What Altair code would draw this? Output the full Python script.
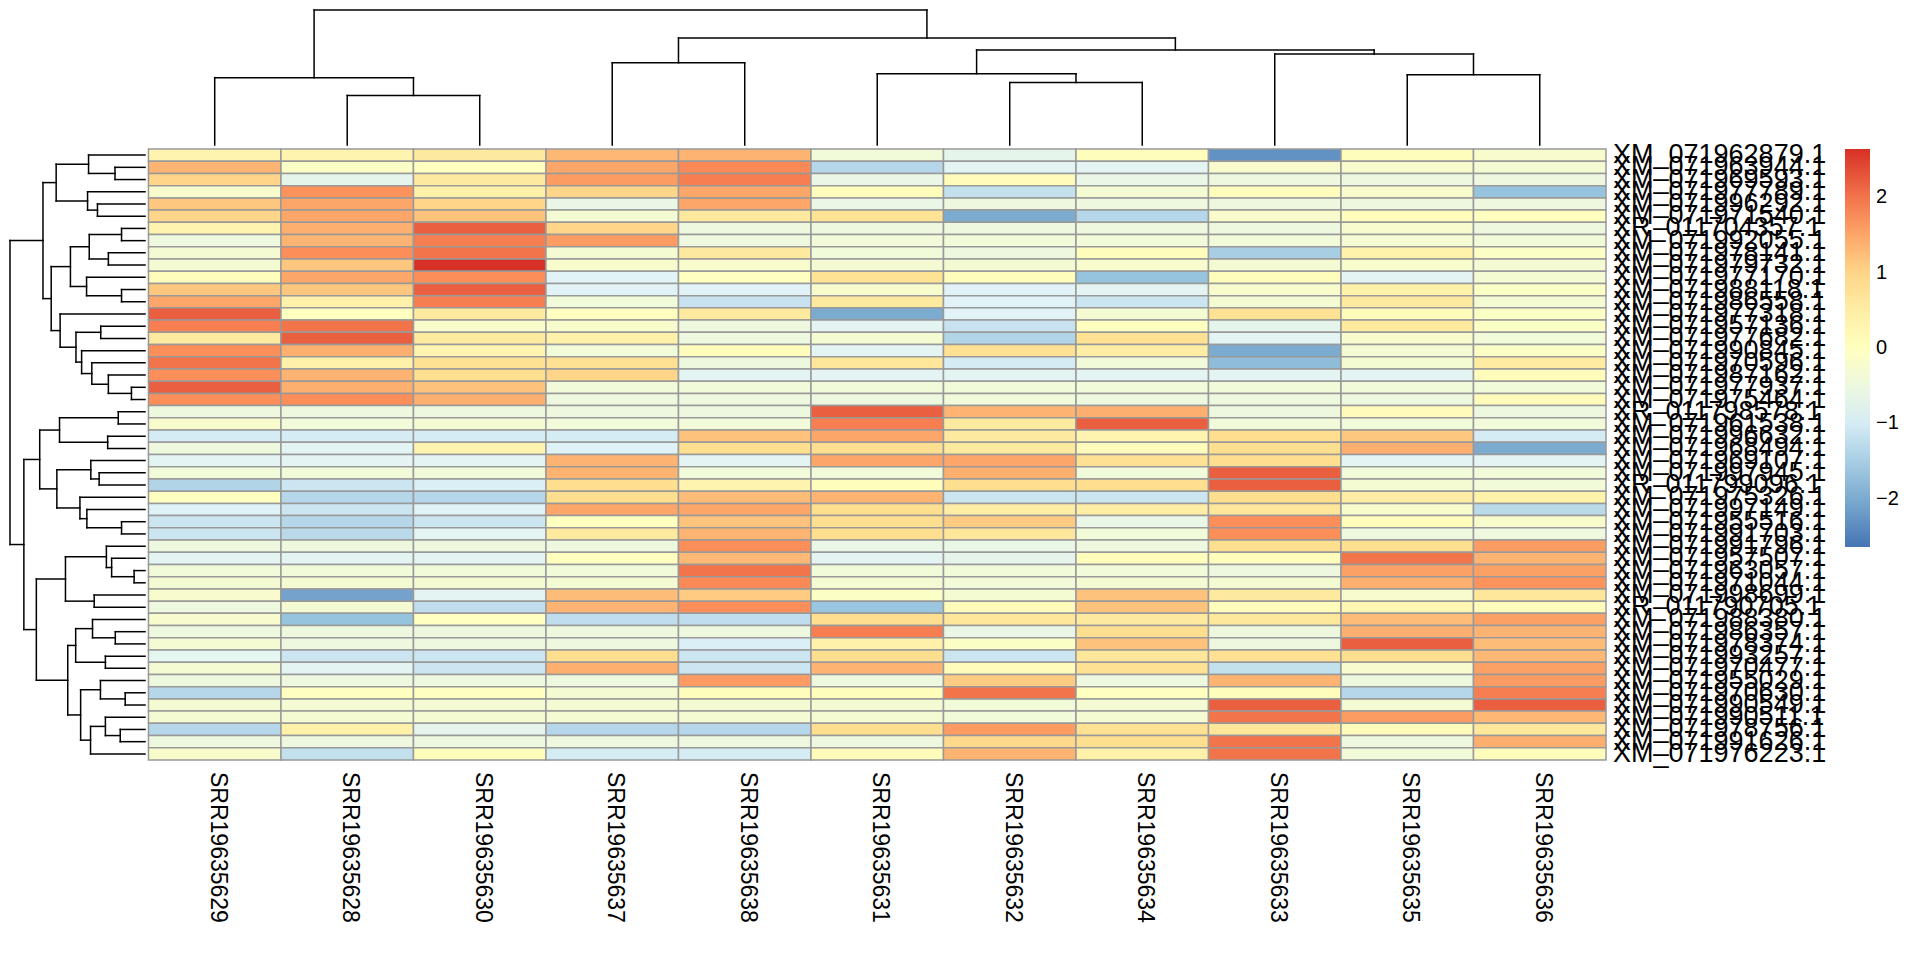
import altair as alt
import pandas as pd

# ---------------- data ----------------
col_labels = ["SRR19635629", "SRR19635628", "SRR19635630", "SRR19635637",
              "SRR19635638", "SRR19635631", "SRR19635632", "SRR19635634",
              "SRR19635633", "SRR19635635", "SRR19635636"]

row_labels = [
    "XM_071962879.1", "XM_071963944.1", "XM_071969593.1", "XM_071977789.1",
    "XM_071996292.1", "XM_071971540.1", "XR_011704357.1", "XM_071992055.1",
    "XM_071978141.1", "XM_071979732.1", "XM_071977170.1", "XM_071988118.1",
    "XM_071986558.1", "XM_071977318.1", "XM_071957136.1", "XM_071977682.1",
    "XM_071990845.1", "XM_071970596.1", "XM_071987162.1", "XM_071977937.1",
    "XM_071975464.1", "XR_011798578.1", "XM_071961538.1", "XM_071996632.1",
    "XM_071968494.1", "XM_071969107.1", "XM_071997945.1", "XR_011799096.1",
    "XM_071975326.1", "XM_071997149.1", "XM_071955516.1", "XM_071991703.1",
    "XM_071991796.1", "XM_071957507.1", "XM_071963057.1", "XM_071971044.1",
    "XM_071998699.1", "XR_011790705.1", "XM_071988380.1", "XM_071986357.1",
    "XM_071978374.1", "XM_071993257.1", "XM_071970477.1", "XM_071955029.1",
    "XM_071970630.1", "XM_071990549.1", "XM_071990511.1", "XM_071978756.1",
    "XM_071991626.1", "XM_071976223.1"]

z_scores = [
    [0.3, 0.3, 0.6, 1.3, 1.35, -0.4, -0.7, 0.05, -2.3, 0.05, -0.2],
    [1.35, -0.1, 0.0, 1.5, 1.8, -1.35, -0.8, -0.8, -0.2, -0.2, -0.3],
    [1.0, -0.7, 0.6, 1.6, 1.9, -0.6, 0.1, -0.6, -0.5, -0.5, -0.5],
    [-0.2, 1.7, 0.4, 1.0, 1.5, 0.05, -1.2, -0.3, 0.05, -0.2, -1.7],
    [1.15, 1.5, 1.0, -0.6, 1.5, -0.6, -0.5, -0.5, -0.5, -0.5, -0.5],
    [1.0, 1.5, 1.2, -0.3, 0.6, 0.8, -2.0, -1.35, -0.2, 0.05, 0.0],
    [0.3, 1.4, 2.2, 1.0, -0.5, -0.5, -0.5, -0.5, -0.5, -0.2, -0.5],
    [-0.5, 1.35, 1.9, 1.6, -0.5, -0.4, -0.4, -0.4, -0.4, -0.3, -0.4],
    [-0.3, 1.75, 2.0, -0.3, 0.6, -0.4, -0.5, 0.05, -1.5, 0.35, -0.1],
    [-0.3, 1.15, 2.64, -0.2, -0.2, -0.3, -0.3, -0.2, -0.3, -0.2, -0.3],
    [0.05, 1.5, 1.75, -0.85, 0.0, 0.8, 0.05, -1.7, 0.05, -0.8, -0.3],
    [1.15, 1.15, 2.2, -0.85, -0.85, -0.2, -0.85, -0.8, -0.2, 0.4, -0.1],
    [1.5, 0.4, 1.9, -0.4, -1.15, 0.6, -0.85, -1.1, -0.3, 0.6, -0.3],
    [2.2, 0.0, 0.6, 0.0, 0.6, -2.0, -0.85, -0.3, 0.85, 0.1, -0.1],
    [1.9, 2.0, -0.2, -0.2, -0.5, -0.8, -1.15, 0.0, -0.7, 0.6, -0.1],
    [0.6, 2.2, 0.6, 0.4, -0.5, -0.3, -1.4, 0.85, -0.8, -0.2, -0.4],
    [1.75, 1.4, 0.3, -0.4, 0.05, -0.8, 0.85, 0.5, -2.0, -0.3, -0.1],
    [2.0, 0.4, 0.85, 0.85, -0.5, 0.7, -1.0, -0.4, -1.8, -0.3, 0.55],
    [1.75, 1.35, 0.9, 1.0, -0.8, -0.8, -0.8, -0.8, -0.8, -0.8, 0.1],
    [2.2, 1.4, 1.2, -0.4, -0.4, -0.4, -0.4, -0.4, -0.4, -0.4, -0.4],
    [1.75, 1.75, 1.4, -0.5, -0.5, -0.5, -0.4, -0.5, -0.5, -0.5, 0.1],
    [-0.5, -0.5, -0.5, -0.5, -0.5, 2.2, 1.35, 1.4, -0.5, 0.1, -0.5],
    [-0.2, -0.4, -0.3, -0.4, -0.4, 1.9, 0.6, 2.2, -0.4, -0.4, -0.4],
    [-1.0, -1.0, -1.0, -1.0, 1.2, 1.5, 0.6, 0.3, 0.9, 1.15, -1.0],
    [-0.5, -0.8, 0.3, -0.9, 0.9, 0.9, 0.6, 0.1, 0.9, 1.4, -2.0],
    [-0.8, -0.8, -0.8, 1.35, -0.8, 1.5, 1.5, 0.85, 0.9, -0.8, -0.8],
    [-0.4, -0.4, -0.4, 1.35, -0.4, -0.4, 1.4, -0.4, 2.2, -0.4, -0.4],
    [-1.4, -1.1, -0.95, 0.9, 0.3, 0.05, 0.9, 0.9, 2.2, -0.3, -0.4],
    [0.0, -1.35, -1.35, 0.9, 1.25, 1.35, -1.1, -1.1, 0.9, 0.5, 0.35],
    [-0.9, -1.1, -0.85, 1.5, 1.5, 0.9, 0.5, 0.5, 0.7, -0.2, -1.3],
    [-1.1, -1.35, -1.1, 0.0, 1.2, 0.9, 1.1, -0.6, 1.75, 0.05, -0.2],
    [-1.1, -1.3, -0.8, 0.6, 1.35, 0.9, 0.7, -0.4, 1.75, -0.5, -0.5],
    [-0.5, -0.5, -0.5, -0.5, 1.75, -0.6, -0.6, -0.5, 0.9, 0.9, 1.6],
    [-0.8, -0.8, -0.8, 0.0, 1.3, -0.8, -0.7, 0.05, 0.05, 2.0, 1.35],
    [-0.4, -0.4, -0.4, -0.4, 2.0, -0.4, -0.4, -0.4, -0.5, 1.55, 1.55],
    [-0.3, -0.3, -0.3, -0.3, 1.8, -0.3, -0.4, -0.3, -0.3, 1.4, 1.7],
    [-0.2, -2.1, -0.8, 1.25, 1.1, -0.1, -0.3, 1.2, 0.6, -0.2, 0.7],
    [-0.5, -0.3, -1.25, 1.35, 1.75, -1.65, 0.1, 1.2, 0.05, 0.25, 0.1],
    [-0.2, -1.7, 0.0, -1.25, -1.25, 0.9, 0.7, 0.6, 0.65, 1.25, 1.55],
    [-0.5, -0.5, -0.5, -0.5, -0.5, 1.9, -0.6, 0.9, -0.5, 1.4, 1.35],
    [-0.3, -0.5, -0.5, -0.5, -0.95, 0.4, -0.1, 1.2, -0.5, 2.2, 1.25],
    [-0.75, -1.1, -1.1, 0.9, -1.1, 0.9, -1.1, 0.7, 0.85, 0.9, 1.3],
    [-0.3, -0.8, -1.1, 1.4, -1.1, 1.35, 0.1, 0.85, -1.2, -0.2, 1.55],
    [-0.5, -0.5, -0.5, -0.5, 1.6, -0.5, 1.1, -0.5, 1.35, -0.5, 1.6],
    [-1.35, 0.0, 0.0, -0.3, 0.05, 0.05, 2.0, 0.0, 0.05, -1.35, 1.9],
    [-0.3, -0.3, -0.3, -0.3, -0.3, -0.3, -0.4, -0.3, 2.2, -0.3, 2.2],
    [-0.3, -0.3, -0.3, -0.3, -0.3, -0.3, -0.4, -0.3, 2.0, 1.6, 1.3],
    [-1.35, 0.4, -0.7, -1.35, -1.35, 0.9, 1.6, 0.85, 0.7, 0.1, 0.65],
    [-0.5, -0.5, -0.5, -0.5, -0.5, -0.5, 0.95, 0.9, 2.0, -0.5, 1.4],
    [-0.2, -1.2, 0.05, -1.0, -1.0, 0.1, 1.35, 0.4, 2.0, -0.4, 0.05],
]

# dendrograms: (child, child, height); ints are leaves, "mK" is the K-th merge
col_merges = [
    (1, 2, 50), (0, "m0", 68), (3, 4, 83), (6, 7, 63), (5, "m3", 72),
    (9, 10, 71), (8, "m5", 92), ("m4", "m6", 96), ("m2", "m7", 108),
    ("m1", "m8", 136.3)]

row_merges = [
    (1, 2, 30.3), (0, "m0", 57), (4, 5, 48), (3, "m2", 58), ("m1", "m3", 89.7),
    (6, 7, 23.7), (8, 9, 37), ("m5", "m6", 56.3), (11, 12, 23.7), (10, "m8", 59),
    ("m7", "m9", 75.3), (14, 15, 44.7), (19, 20, 13.7), (18, "m12", 37),
    (17, "m13", 53.7), (16, "m14", 64), ("m11", "m15", 69.7), (13, "m16", 85.7),
    ("m10", "m17", 94.7), ("m4", "m18", 103),
    (21, 22, 27), (23, 24, 37.7), ("m20", "m21", 86.3), (26, 27, 46.3),
    (25, "m23", 54.7), (30, 31, 23.7), (29, "m25", 58.7), (28, "m26", 65.7),
    ("m24", "m27", 89), ("m22", "m28", 106.3),
    (34, 35, 11), (33, "m30", 33.7), (32, "m31", 39), (36, 37, 51.3),
    ("m32", "m33", 80.3),
    (39, 40, 30), (38, "m35", 53), (41, 42, 40), ("m36", "m37", 70),
    (44, 45, 20), (43, "m39", 45), (47, 48, 25), (46, "m41", 40),
    ("m42", 49, 55), ("m40", "m43", 65), ("m38", "m44", 78),
    ("m34", "m45", 109.7), ("m29", "m46", 122.3), ("m19", "m47", 136.3)]

legend_ticks = [-2, -1, 0, 1, 2]
palette = ["#4575B4", "#91BFDB", "#E0F3F8", "#FFFFBF", "#FEE090", "#FC8D59", "#D73027"]
vmax = 2.64

# ---------------- layout helpers ----------------
n_rows, n_cols = len(row_labels), len(col_labels)
X_LEFT = -1.045          # room for the row dendrogram (in column units)
Y_TOP = -11.375          # room for the column dendrogram (in row units)
W, H = 1596, 750


def dendro(merges, n):
    pos = {i: float(i) for i in range(n)}
    hgt = {i: 0.0 for i in range(n)}
    ref = lambda c: c if isinstance(c, int) else n + int(c[1:])
    segs = []
    for k, (a, b, h) in enumerate(merges):
        a, b = ref(a), ref(b)
        segs.append((pos[a], hgt[a], pos[a], h))
        segs.append((pos[b], hgt[b], pos[b], h))
        segs.append((pos[a], h, pos[b], h))
        pos[n + k] = (pos[a] + pos[b]) / 2
        hgt[n + k] = h
    return segs, max(h for _, _, h in merges)


cells = []
for r in range(n_rows):
    for c in range(n_cols):
        cells.append({"x0": c, "x1": c + 1, "y0": r, "y1": r + 1,
                      "value": z_scores[r][c], "gene": row_labels[r],
                      "sample": col_labels[c]})
cells = pd.DataFrame(cells)

cs, croot = dendro(col_merges, n_cols)
col_seg = pd.DataFrame([{"x": p1 + 0.5, "x2": p2 + 0.5,
                         "y": -0.327 - h1 / croot * (-Y_TOP - 0.327),
                         "y2": -0.327 - h2 / croot * (-Y_TOP - 0.327)}
                        for p1, h1, p2, h2 in cs])
rs, rroot = dendro(row_merges, n_rows)
row_seg = pd.DataFrame([{"y": p1 + 0.5, "y2": p2 + 0.5,
                         "x": -0.026 - h1 / rroot * (-X_LEFT - 0.026),
                         "x2": -0.026 - h2 / rroot * (-X_LEFT - 0.026)}
                        for p1, h1, p2, h2 in rs])

row_df = pd.DataFrame({"label": row_labels, "y": [i + 0.5 for i in range(n_rows)],
                       "x": [n_cols] * n_rows})
col_df = pd.DataFrame({"label": col_labels, "x": [i + 0.5 for i in range(n_cols)],
                       "y": [n_rows] * n_cols})

xs = alt.Scale(domain=[X_LEFT, n_cols], nice=False, zero=False)
ys = alt.Scale(domain=[Y_TOP, n_rows], nice=False, zero=False, reverse=True)
FONT = "Liberation Sans"

heat = alt.Chart(cells).mark_rect(stroke="#999999", strokeWidth=1.5).encode(
    x=alt.X("x0:Q", scale=xs, axis=None), x2="x1:Q",
    y=alt.Y("y0:Q", scale=ys, axis=None), y2="y1:Q",
    color=alt.Color("value:Q",
                    scale=alt.Scale(domain=[-vmax, -2 * vmax / 3, -vmax / 3, 0,
                                            vmax / 3, 2 * vmax / 3, vmax],
                                    range=palette, interpolate="rgb"),
                    legend=alt.Legend(orient="none", legendX=1835, legendY=139,
                                      direction="vertical", title=None,
                                      gradientLength=398, gradientThickness=25,
                                      gradientStrokeWidth=0, values=legend_ticks,
                                      labelFontSize=20, labelFont=FONT,
                                      labelColor="black", labelOffset=6,
                                      padding=0)),
    tooltip=["gene", "sample", "value"])

seg_mark = dict(color="black", strokeWidth=1.5, strokeCap="square")
cden = alt.Chart(col_seg).mark_rule(**seg_mark).encode(
    x=alt.X("x:Q", scale=xs, axis=None), x2="x2:Q",
    y=alt.Y("y:Q", scale=ys, axis=None), y2="y2:Q")
rden = alt.Chart(row_seg).mark_rule(**seg_mark).encode(
    x=alt.X("x:Q", scale=xs, axis=None), x2="x2:Q",
    y=alt.Y("y:Q", scale=ys, axis=None), y2="y2:Q")

rlab = alt.Chart(row_df).mark_text(align="left", baseline="middle", dx=7,
                                   fontSize=27, font=FONT, color="black").encode(
    x=alt.X("x:Q", scale=xs, axis=None), y=alt.Y("y:Q", scale=ys, axis=None),
    text="label:N")
clab = alt.Chart(col_df).mark_text(align="left", baseline="middle", angle=90,
                                   dx=12, dy=-3,
                                   fontSize=23, font=FONT, color="black").encode(
    x=alt.X("x:Q", scale=xs, axis=None), y=alt.Y("y:Q", scale=ys, axis=None),
    text="label:N")

chart = alt.layer(heat, cden, rden, rlab, clab).properties(
    width=W, height=H, padding=0
).configure_view(stroke=None)

chart.save("out.html", embed_options={"renderer": "svg", "actions": False})
